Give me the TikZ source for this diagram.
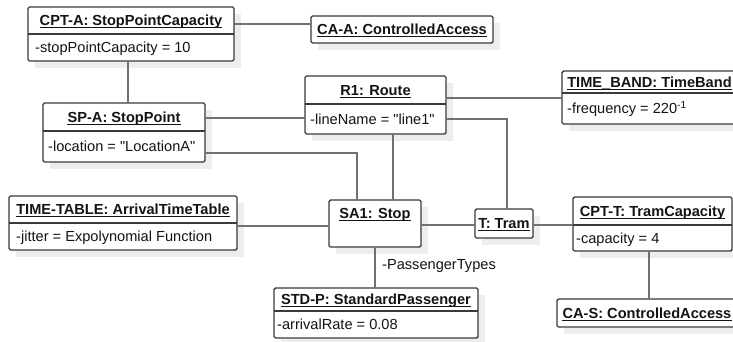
\documentclass[tikz,border=0pt]{standalone}
\usepackage{fontspec}
\setmainfont{Liberation Sans}[Ligatures=TeXOff]
\definecolor{boxc}{HTML}{3A3A3A}
\definecolor{linec}{HTML}{707070}
\definecolor{shadc}{HTML}{EDEDED}
\definecolor{txtc}{HTML}{141414}
\tikzset{
  objbox/.style={draw=boxc, fill=white, line width=1.4pt, rounded corners=1.5pt, inner sep=0pt, outer sep=0pt},
  divline/.style={draw=boxc, line width=1.2pt},
  conn/.style={draw=linec, line width=1.4pt},
  ttl/.style={font=\bfseries\fontsize{14.6}{17}\selectfont, text=txtc, inner sep=0pt, anchor=base},
  attr/.style={font=\fontsize{14.6}{17}\selectfont, text=txtc, inner sep=0pt, anchor=base west},
  ulin/.style={draw=txtc, line width=1.1pt},
}
\newcommand\dq{\symbol{34}}
% #1 name, #2 x1, #3 y1, #4 x2, #5 y2, #6 bottom of title band, #7 title
\newcommand\objbox[7]{%
  \fill[shadc] ({#2+7},{#3+7}) rectangle ({#4+7},{#5+7});
  \node[objbox, minimum width={(#4-#2)*1pt}, minimum height={(#5-#3)*1pt}] (#1) at ({(#2+#4)/2},{(#3+#5)/2}) {};
  \node[ttl] (#1-t) at ({(#2+#4)/2},{(#3+#6)/2+5}) {#7};
  \draw[ulin] ([yshift=-2.2pt]#1-t.base west) -- ([yshift=-2.2pt]#1-t.base east);
}
\newcommand\objdiv[2]{\draw[divline] (#1.west |- 0,#2) -- (#1.east |- 0,#2);}
\begin{document}
\begin{tikzpicture}[x=1pt, y=-1pt]
  \useasboundingbox (0,0) rectangle (733,341);
  \fill[white] (0,0) rectangle (733,341);
  \clip (0,0) rectangle (733,341);

  % objects
  \objbox{cpta}{28}{7}{234}{61}{34}{CPT-A: StopPointCapacity}
  \objdiv{cpta}{34}
  \node[attr] (cpta-a) at (35,52.5) {-stopPointCapacity = 10};

  \objbox{caa}{311}{16}{493}{43}{43}{CA-A: ControlledAccess}

  \objbox{spa}{43}{103}{205}{162}{131}{SP-A: StopPoint}
  \objdiv{spa}{131}
  \node[attr] (spa-a) at (48,151.5) {-location = \dq LocationA\dq};

  \objbox{r1}{305}{76}{446}{134}{104}{R1: Route}
  \objdiv{r1}{104}
  \node[attr] (r1-a) at (310,124) {-lineName = \dq line1\dq};

  \objbox{tb}{562}{71}{737}{124}{93}{TIME\_BAND: TimeBand}
  \objdiv{tb}{93}
  \node[attr] (tb-a) at (567,113.5) {-frequency = 220\textsuperscript{-1}};

  \objbox{tt}{9}{196}{237}{250}{223}{TIME-TABLE: ArrivalTimeTable}
  \objdiv{tt}{223}
  \node[attr] (tt-a) at (16,241.5) {-jitter = Expolynomial Function};

  \objbox{sa1}{329}{200}{421}{247}{227}{SA1: Stop}

  \objbox{tram}{475}{209}{533}{238}{238}{T: Tram}

  \objbox{cptt}{573}{197}{732}{251}{225}{CPT-T: TramCapacity}
  \objdiv{cptt}{225}
  \node[attr] (cptt-a) at (576,243) {-capacity = 4};

  \objbox{cas}{557}{299}{737}{327}{327}{CA-S: ControlledAccess}

  \objbox{stdp}{274}{288}{478}{338}{311}{STD-P: StandardPassenger}
  \objdiv{stdp}{311}
  \node[attr] (stdp-a) at (277,329.5) {-arrivalRate = 0.08};

  % connectors
  \draw[conn] (cpta.east |- 0,24) -- (caa.west |- 0,24);
  \draw[conn] (128,0 |- cpta.south) -- (128,0 |- spa.north);
  \draw[conn] (spa.east |- 0,118) -- (r1.west |- 0,118);
  \draw[conn] (spa.east |- 0,153) -| (357,0 |- sa1.north);
  \draw[conn] (r1.east |- 0,98) -- (tb.west |- 0,98);
  \draw[conn] (r1.east |- 0,119) -| (507,0 |- tram.north);
  \draw[conn] (393,0 |- r1.south) -- (393,0 |- sa1.north);
  \draw[conn] (tt.east |- 0,226) -- (sa1.west |- 0,226);
  \draw[conn] (sa1.east |- 0,225) -- (tram.west |- 0,225);
  \draw[conn] (tram.east |- 0,225) -- (cptt.west |- 0,225);
  \draw[conn] (649,0 |- cptt.south) -- (649,0 |- cas.north);
  \draw[conn] (375,0 |- sa1.south) -- (375,0 |- stdp.north);
  \node[attr] (ptlabel) at (382,269) {-PassengerTypes};
\end{tikzpicture}
\end{document}
